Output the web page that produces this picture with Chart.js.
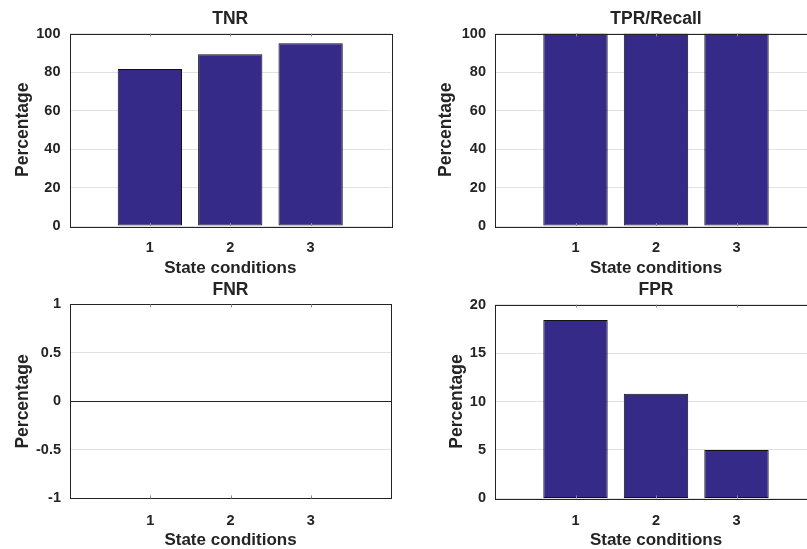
<!DOCTYPE html>
<html>
<head>
<meta charset="utf-8">
<title>State conditions – TNR / TPR / FNR / FPR</title>
<script src="https://cdn.jsdelivr.net/npm/chart.js@4.4.1/dist/chart.umd.min.js"></script>
<style>
  html, body { margin: 0; padding: 0; background: #fff; overflow: hidden; }
  body { width: 807px; height: 549px; position: relative; }
  canvas { position: absolute; display: block; }
</style>
</head>
<body>
<canvas id="tnr" width="400" height="280" style="left:0;top:0"></canvas>
<canvas id="tpr" width="430" height="280" style="left:400px;top:0"></canvas>
<canvas id="fnr" width="400" height="290" style="left:0;top:280px"></canvas>
<canvas id="fpr" width="430" height="290" style="left:400px;top:280px"></canvas>
<script>
// ── DATA ────────────────────────────────────────────────────────────────────
const categories = [1, 2, 3];
const tnrValues  = [81.6, 89.2, 95.0];
const tprValues  = [100, 100, 100];
const fnrValues  = [0, 0, 0];
const fprValues  = [18.4, 10.8, 5.0];

const tnrTicks = [0, 20, 40, 60, 80, 100];
const tprTicks = [0, 20, 40, 60, 80, 100];
const fnrTicks = [-1, -0.5, 0, 0.5, 1];
const fprTicks = [0, 5, 10, 15, 20];

const xLabel = 'State conditions';
const yLabel = 'Percentage';

// ── STYLE ───────────────────────────────────────────────────────────────────
const BAR_COLOR  = '#352a87';
const INK        = '#242424';
const GRID_COLOR = '#e2e2e2';
const FONT       = "'Liberation Sans', Arial, Helvetica, sans-serif";

// MATLAB-ish box: full frame around the axes, small inward ticks, title over axes centre
const boxPlugin = {
  id: 'matlabBox',
  afterDraw(chart, args, opts) {
    const { ctx, chartArea: a, scales } = chart;
    ctx.save();
    ctx.strokeStyle = INK;
    ctx.lineWidth = 1;
    ctx.strokeRect(Math.round(a.left) + 0.5, Math.round(a.top) + 0.5,
                   Math.round(a.right - a.left), Math.round(a.bottom - a.top));
    ctx.strokeStyle = '#8a8a8a';
    ctx.beginPath();
    scales.x.ticks.forEach(t => {
      const px = Math.round(scales.x.getPixelForValue(t.value)) + 0.5;
      ctx.moveTo(px, a.bottom); ctx.lineTo(px, a.bottom - 3);
      ctx.moveTo(px, a.top);    ctx.lineTo(px, a.top + 3);
    });
    ctx.stroke();
    ctx.fillStyle = INK;
    ctx.font = `bold 17.5px ${FONT}`;
    ctx.textAlign = 'center';
    ctx.textBaseline = 'middle';
    ctx.fillText(opts.text, (a.left + a.right) / 2, a.top - 14);
    ctx.restore();
  }
};

function makeBarChart(id, title, values, yTicks, o) {
  const zeroLine = o.zeroLine;
  return new Chart(document.getElementById(id), {
    type: 'bar',
    data: {
      datasets: [{
        data: categories.map((c, i) => ({ x: c, y: values[i] })),
        backgroundColor: BAR_COLOR,
        borderColor: '#111',
        borderWidth: 1,
        borderSkipped: false,
        barPercentage: 0.8,
        categoryPercentage: 1,
      }]
    },
    options: {
      responsive: false,
      animation: false,
      events: [],
      layout: { padding: { top: o.padTop, right: o.padRight, left: 0, bottom: 0 } },
      scales: {
        x: {
          type: 'linear',
          min: 0,
          max: 4,
          offset: false,
          afterBuildTicks: s => { s.ticks = categories.map(v => ({ value: v })); },
          afterFit: s => { s.height = o.xHeight; },
          grid: { display: false, offset: false },
          border: { display: false },
          ticks: {
            padding: 5.5,
            color: INK,
            font: { family: FONT, size: 14.5, weight: 'bold' },
            callback: v => String(v),
          },
          title: {
            display: true,
            text: xLabel,
            color: INK,
            font: { family: FONT, size: 17, weight: 'bold' },
            padding: { top: 0, bottom: o.xTitlePad },
          },
        },
        y: {
          min: yTicks[0],
          max: yTicks[yTicks.length - 1],
          afterBuildTicks: s => { s.ticks = yTicks.map(v => ({ value: v })); },
          afterFit: s => { s.width = o.yWidth; },
          grid: {
            drawTicks: false,
            color: ctx => (zeroLine && ctx.tick && ctx.tick.value === 0) ? INK : GRID_COLOR,
            lineWidth: 1,
          },
          border: { display: false },
          ticks: {
            padding: 9,
            color: INK,
            font: { family: FONT, size: 14.5, weight: 'bold' },
            callback: v => String(v),
          },
          title: {
            display: true,
            text: yLabel,
            color: INK,
            font: { family: FONT, size: 17.5, weight: 'bold' },
            padding: { top: o.yTitlePad, bottom: 0 },
          },
        },
      },
      plugins: {
        legend: { display: false },
        tooltip: { enabled: false },
        matlabBox: { text: title },
      },
    },
    plugins: [boxPlugin],
  });
}

makeBarChart('tnr', 'TNR', tnrValues, tnrTicks,
  { padTop: 33.5, padRight: 9,  yWidth: 69.5, xHeight: 54,   xTitlePad: 1,  yTitlePad: 13 });
makeBarChart('tpr', 'TPR/Recall', tprValues, tprTicks,
  { padTop: 33.5, padRight: 13, yWidth: 95,   xHeight: 54,   xTitlePad: 1,  yTitlePad: 36 });
makeBarChart('fnr', 'FNR', fnrValues, fnrTicks,
  { padTop: 24.4, padRight: 9,  yWidth: 70,   xHeight: 71.6, xTitlePad: 19, yTitlePad: 13, zeroLine: true });
makeBarChart('fpr', 'FPR', fprValues, fprTicks,
  { padTop: 24.6, padRight: 13, yWidth: 95,   xHeight: 71.6, xTitlePad: 19, yTitlePad: 46.5 });
</script>
</body>
</html>
